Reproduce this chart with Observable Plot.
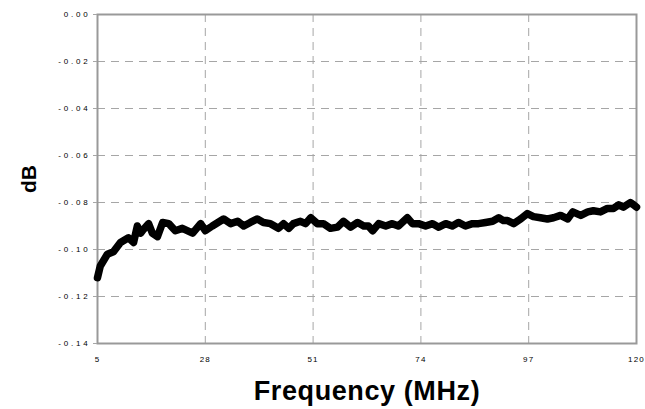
<!DOCTYPE html>
<html>
<head>
<meta charset="utf-8">
<script src="https://cdn.jsdelivr.net/npm/d3@7"></script>
<script src="https://cdn.jsdelivr.net/npm/@observablehq/plot@0.6"></script>
<style>
  html, body { margin: 0; padding: 0; background: #fff; }
  #chart svg { display: block; }
  g[aria-label="y-axis label"] text { font-size: 21px; font-weight: bold; fill: #000; }
  g[aria-label="x-axis label"] text { font-size: 27px; font-weight: bold; fill: #000; letter-spacing: 0.6px; }
  g[aria-label="y-axis tick label"] text { letter-spacing: 2.8px; }
  g[aria-label="x-axis tick label"] text { letter-spacing: 1.2px; }
</style>
</head>
<body>
<div id="chart"></div>
<script>
const freq = [5.0, 5.6, 7.1, 8.4, 9.9, 11.6, 12.7, 13.5, 14.2, 14.8, 15.9, 16.7, 17.8, 18.9, 20.2, 21.6, 23.1, 25.3, 27.0, 28.0, 29.5, 31.9, 33.4, 34.9, 36.2, 37.6, 39.1, 40.4, 41.9, 43.6, 44.7, 45.8, 46.8, 48.3, 49.4, 50.5, 51.9, 53.2, 54.7, 56.2, 57.5, 59.0, 60.5, 61.8, 62.8, 63.7, 65.0, 66.5, 67.9, 69.2, 71.1, 72.2, 73.5, 75.0, 76.5, 77.8, 79.3, 80.7, 82.0, 83.5, 85.0, 86.3, 87.8, 89.3, 90.6, 91.6, 92.5, 93.8, 95.3, 96.7, 98.0, 99.5, 101.0, 102.3, 103.8, 105.3, 106.4, 108.1, 109.6, 110.8, 112.3, 113.8, 115.1, 116.2, 117.2, 118.7, 119.4, 120.0];
const dB = [-0.112, -0.107, -0.102, -0.101, -0.097, -0.095, -0.097, -0.090, -0.093, -0.0915, -0.089, -0.093, -0.0945, -0.0885, -0.089, -0.092, -0.091, -0.093, -0.089, -0.092, -0.090, -0.087, -0.089, -0.088, -0.090, -0.0885, -0.087, -0.0885, -0.089, -0.091, -0.089, -0.091, -0.089, -0.088, -0.089, -0.0865, -0.089, -0.089, -0.091, -0.0905, -0.088, -0.0905, -0.0885, -0.090, -0.090, -0.092, -0.089, -0.090, -0.089, -0.090, -0.0865, -0.089, -0.089, -0.090, -0.089, -0.0905, -0.089, -0.090, -0.0885, -0.090, -0.089, -0.089, -0.0885, -0.088, -0.0865, -0.0877, -0.0877, -0.089, -0.087, -0.0847, -0.086, -0.0865, -0.087, -0.0865, -0.0855, -0.087, -0.084, -0.0855, -0.084, -0.0835, -0.084, -0.0825, -0.0825, -0.081, -0.082, -0.080, -0.081, -0.082];
const xTicks = [5, 28, 51, 74, 97, 120];
const yTicks = [0, -0.02, -0.04, -0.06, -0.08, -0.10, -0.12, -0.14];

const data = freq.map((f, i) => ({f, v: dB[i]}));

const chart = Plot.plot({
  width: 645,
  height: 409,
  marginLeft: 97,
  marginRight: 9,
  marginTop: 14,
  marginBottom: 66,
  style: {fontFamily: "Liberation Sans, Arial, sans-serif", fontSize: "8px", color: "#000", background: "#fff", overflow: "visible"},
  x: {type: "linear", domain: [5, 120]},
  y: {type: "linear", domain: [-0.14, 0]},
  marks: [
    Plot.gridX(xTicks, {stroke: "#a6a6a6", strokeOpacity: 1, strokeWidth: 1, strokeDasharray: "8,6"}),
    Plot.gridY(yTicks.slice(1, -1), {stroke: "#a6a6a6", strokeOpacity: 1, strokeWidth: 1, strokeDasharray: "8,6"}),
    Plot.frame({stroke: "#999", strokeWidth: 2}),
    Plot.axisX(xTicks, {tickSize: 0, tickPadding: 13, label: "Frequency (MHz)", labelAnchor: "center", labelArrow: "none", labelOffset: 56, fill: "#000"}),
    Plot.axisY(yTicks, {tickSize: 4, tickPadding: 3, stroke: "#a6a6a6", strokeOpacity: 1, tickFormat: d => d.toFixed(2), label: "dB", labelAnchor: "center", labelArrow: "none", labelOffset: 76, fill: "#000"}),
    Plot.line(data, {x: "f", y: "v", stroke: "#000", strokeWidth: 7.5, strokeLinejoin: "round", strokeLinecap: "round"})
  ]
});
document.getElementById("chart").appendChild(chart);
</script>
</body>
</html>
